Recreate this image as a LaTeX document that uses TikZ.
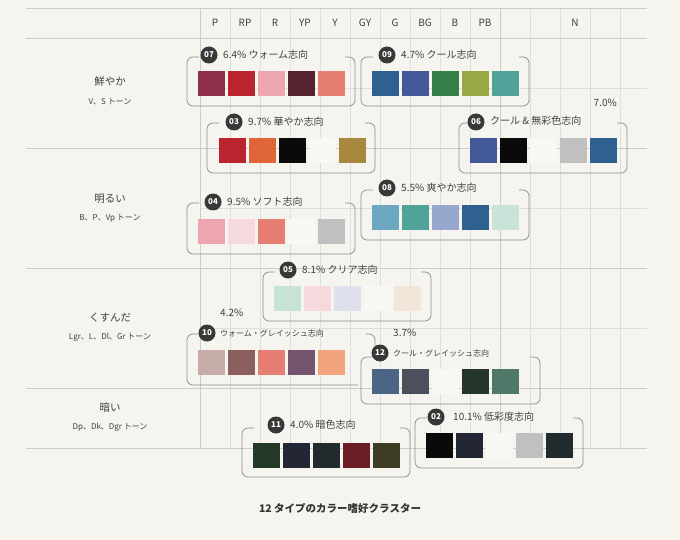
\documentclass[tikz,border=0pt]{standalone}
\usepackage{fontspec}
\setmainfont{Noto Sans CJK JP}
\begin{document}
\begin{tikzpicture}[x=1pt,y=-1pt,
  grid/.style={draw=black!13,line width=0.6pt},
  major/.style={draw=black!20,line width=0.8pt},
  frame/.style={draw=black!45,line width=0.7pt,rounded corners=6pt},
  badge/.style={circle,fill=black!78,text=white,inner sep=0pt,minimum size=17pt,font=\fontsize{8}{8}\selectfont\bfseries},
  ttl/.style={anchor=west,text=black!75,font=\fontsize{10}{10}\selectfont,inner sep=0pt},
  lbl/.style={text=black!75,font=\fontsize{10.5}{11}\selectfont},
  sub/.style={text=black!75,font=\fontsize{8}{9}\selectfont},
  hdr/.style={text=black!75,font=\fontsize{10}{10}\selectfont}]
\definecolor{bg}{HTML}{F5F4EE}
\fill[bg] (0,0) rectangle (680,540);
\useasboundingbox (0,0) rectangle (680,540);
% grid
\foreach \y in {88,208,328} \draw[grid] (200,\y) -- (647,\y);
\foreach \x in {230,260,...,470,530,560,590,620} \draw[grid] (\x,8) -- (\x,448);
\foreach \x in {200,500} \draw[major] (\x,8) -- (\x,448);
\foreach \y in {8,38,148,268,388,448} \draw[major] (26,\y) -- (647,\y);
% header
\foreach \t [count=\i] in {P,RP,R,YP,Y,GY,G,BG,B,PB}
  \node[hdr] (h\i) at (185+30*\i,23) {\t};
\node[hdr] (hN) at (575,23) {N};
% row labels
\node[lbl] (r1) at (110,82) {鮮やか};
\node[sub] (r1s) at (110,102) {V、S トーン};
\node[lbl] (r2) at (110,199) {明るい};
\node[sub] (r2s) at (110,218) {B、P、Vp トーン};
\node[lbl] (r3) at (110,318) {くすんだ};
\node[sub] (r3s) at (110,337) {Lgr、L、Dl、Gr トーン};
\node[lbl] (r4) at (110,408) {暗い};
\node[sub] (r4s) at (110,427) {Dp、Dk、Dgr トーン};
% cluster macro: #1 x-left, #2 top, #3 bottom, #4 x-right, #5 swatch x0, #6 swatch y, #7 colours
\newcommand\swatches[3]{%
  \foreach \c [count=\k] in {#3} {\definecolor{tmp}{HTML}{\c}\fill[tmp] (#1+30*\k-30,#2) rectangle ++(27,25);}}
\newcommand\frameopen[4]{\draw[frame] (#1+12,#2) -- (#1,#2) -- (#1,#3) -- (#4,#3) -- (#4,#2) -- (#4-10,#2);}
% 07
\frameopen{187}{57}{106}{355}
\node[badge] (b07) at (209,55) {07};
\node[ttl] (t07) at (223,55) {6.4\% ウォーム志向};
\swatches{198}{71}{8E2E4A,BA242E,EDA6B0,532330,E67E74}
% 09
\frameopen{361}{57}{106}{529}
\node[badge] (b09) at (387,55) {09};
\node[ttl] (t09) at (401,55) {4.7\% クール志向};
\swatches{372}{71}{2F6190,435896,358049,98A943,4FA399}
% 03
\frameopen{207}{123}{173}{375}
\node[badge] (b03) at (234,122) {03};
\node[ttl] (t03) at (248,122) {9.7\% 華やか志向};
\swatches{219}{138}{BA242E,E0663A,0A0A0A,F8F8F4,A8883F}
% 06
\frameopen{459}{123}{173}{627}
\node[badge] (b06) at (476,122) {06};
\node[ttl] (t06) at (490,121) {クール \& 無彩色志向};
\node[ttl,anchor=east] (p06) at (617,103) {7.0\%};
\swatches{470}{138}{435896,0A0A0A,F8F8F4,C0C0C0,2F6190}
% 04
\frameopen{187}{203}{254}{355}
\node[badge] (b04) at (213,202) {04};
\node[ttl] (t04) at (227,202) {9.5\% ソフト志向};
\swatches{198}{219}{EDA6B0,F5D9DC,E67E74,F8F8F4,C0C0C0}
% 08
\frameopen{361}{190}{240}{529}
\node[badge] (b08) at (387,188) {08};
\node[ttl] (t08) at (401,188) {5.5\% 爽やか志向};
\swatches{372}{205}{6DA8C2,4FA399,98A7CE,2F6190,C9E3D8}
% 05
\frameopen{263}{272}{321}{431}
\node[badge] (b05) at (288,270) {05};
\node[ttl] (t05) at (302,270) {8.1\% クリア志向};
\swatches{274}{286}{C7E3D8,F5D9DC,DEE0EE,F8F8F4,F2E6D8}
% 10
\draw[frame] (199,334) -- (187,334) -- (187,385) -- (358,385);
\draw[frame] (366,334) -- (375,334) -- (375,346);
\node[badge] (b10) at (207,333) {10};
\node[ttl,font=\fontsize{8}{8}\selectfont] (t10) at (220,333) {ウォーム・グレイッシュ志向};
\node[ttl] (p10) at (220,313) {4.2\%};
\swatches{198}{350}{C7ADA9,8A5F5D,E67E74,75546F,F2A47E}
% 12
\frameopen{361}{357}{404}{540}
\node[badge] (b12) at (380,353) {12};
\node[ttl,font=\fontsize{8}{8}\selectfont] (t12) at (393,353) {クール・グレイッシュ志向};
\node[ttl] (p12) at (393,333) {3.7\%};
\swatches{372}{369}{4D6585,4A505C,F8F8F4,24362B,4E7868}
% 11
\frameopen{242}{428}{477}{410}
\node[badge] (b11) at (276,425) {11};
\node[ttl] (t11) at (290,425) {4.0\% 暗色志向};
\swatches{253}{443}{233A28,232735,212A2D,6B1E26,3C3D22}
% 02
\frameopen{415}{418}{468}{583}
\node[badge] (b02) at (436,417) {02};
\node[ttl] (t02) at (453,417) {10.1\% 低彩度志向};
\swatches{426}{433}{0A0A0A,232735,F8F8F4,C0C0C0,212A2D}
% caption
\node[text=black!80,font=\fontsize{10.5}{11}\selectfont\bfseries] (cap) at (340,508) {12 タイプのカラー嗜好クラスター};
\end{tikzpicture}
\end{document}
